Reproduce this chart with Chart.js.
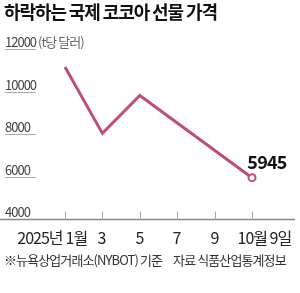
<!DOCTYPE html>
<html>
<head>
  <meta charset="utf-8">
  <title>하락하는 국제 코코아 선물 가격</title>
  <script src="https://cdn.jsdelivr.net/npm/chart.js"></script>
  <style>
    html, body {
      margin: 0;
      padding: 0;
      background: #ffffff;
    }
    .wrap {
      position: relative;
      width: 300px;
      height: 293px;
      overflow: hidden;
      font-family: "Noto Sans CJK KR", "Noto Sans", sans-serif;
    }
    canvas {
      position: absolute;
      left: 0;
      top: 0;
    }
    .title {
      position: absolute;
      left: 4px;
      top: -2px;
      font-size: 18px;
      font-weight: bold;
      letter-spacing: -1.1px;
      color: #111;
      white-space: nowrap;
    }
    .footer {
      position: absolute;
      left: 4px;
      top: 250px;
      font-size: 13px;
      letter-spacing: -0.9px;
      color: #333;
      white-space: nowrap;
    }
    .footer span + span {
      margin-left: 11px;
    }
  </style>
</head>
<body>
  <div class="wrap">
    <canvas id="cocoaChart" width="300" height="293"></canvas>
    <div class="title">하락하는 국제 코코아 선물 가격</div>
    <div class="footer"><span>※뉴욕상업거래소(NYBOT) 기준</span><span>자료 식품산업통계정보</span></div>
  </div>

  <script>
    // data
    const xLabels = ['1월', '3', '5', '7', '9', '10월 9일'];
    const yearLabel = '2025년';
    const prices = [11150, 8030, 9810, null, null, 5945];
    const yTicks = [4000, 6000, 8000, 10000, 12000];
    const unitLabel = '(t당 달러)';

    const lineColor = '#c24d72';
    const fontFamily = '"Noto Sans CJK KR", "Noto Sans", sans-serif';

    const axisPlugin = {
      id: 'axisPlugin',
      beforeDatasetsDraw(chart) {
        const { ctx, chartArea, scales } = chart;
        const y = scales.y;
        const x = scales.x;
        ctx.save();

        // y labels with short underlines
        ctx.font = '13px ' + fontFamily;
        ctx.letterSpacing = '-1px';
        ctx.textAlign = 'left';
        ctx.textBaseline = 'bottom';
        yTicks.forEach((v) => {
          const py = Math.round(y.getPixelForValue(v)) + 0.5;
          ctx.fillStyle = '#444';
          ctx.fillText(String(v), 5, py - 1);
          if (v !== yTicks[0]) {
            ctx.strokeStyle = '#aaa';
            ctx.lineWidth = 1;
            ctx.beginPath();
            ctx.moveTo(5, py);
            ctx.lineTo(36, py);
            ctx.stroke();
          }
          if (v === yTicks[yTicks.length - 1]) {
            const w = ctx.measureText(String(v)).width;
            ctx.fillStyle = '#666';
            ctx.fillText(unitLabel, 5 + w + 2, py - 1);
          }
        });

        // baseline
        const base = Math.round(chartArea.bottom) + 0.5;
        ctx.strokeStyle = '#888';
        ctx.lineWidth = 1.3;
        ctx.beginPath();
        ctx.moveTo(0, base);
        ctx.lineTo(295, base);
        ctx.stroke();

        // x ticks and labels
        ctx.font = '16px ' + fontFamily;
        ctx.letterSpacing = '-1px';
        ctx.textBaseline = 'middle';
        ctx.fillStyle = '#222';
        ctx.strokeStyle = '#aaa';
        ctx.lineWidth = 1;
        xLabels.forEach((lab, i) => {
          const px = Math.round(x.getPixelForValue(i)) + 0.5;
          ctx.beginPath();
          ctx.moveTo(px, base - 8);
          ctx.lineTo(px, base);
          ctx.stroke();
          if (i === 0) {
            ctx.textAlign = 'left';
            ctx.fillText(lab, px, base + 18);
            ctx.textAlign = 'right';
            ctx.fillText(yearLabel, px - 3, base + 18);
          } else if (i === xLabels.length - 1) {
            ctx.textAlign = 'left';
            ctx.fillText(lab, px - 15, base + 18);
          } else {
            ctx.textAlign = 'center';
            ctx.fillText(lab, px - 1, base + 18);
          }
        });
        ctx.restore();
      },
      afterDatasetsDraw(chart) {
        // value label on the last point
        const { ctx } = chart;
        const meta = chart.getDatasetMeta(0);
        const last = prices.length - 1;
        const pt = meta.data[last];
        ctx.save();
        ctx.font = 'bold 18px ' + fontFamily;
        ctx.letterSpacing = '-0.8px';
        ctx.fillStyle = '#111';
        ctx.textAlign = 'center';
        ctx.textBaseline = 'middle';
        ctx.fillText(String(prices[last]), pt.x + 15, pt.y - 16);
        ctx.restore();
      }
    };

    const ctx = document.getElementById('cocoaChart').getContext('2d');
    new Chart(ctx, {
      type: 'line',
      data: {
        labels: xLabels,
        datasets: [
          {
            data: prices,
            borderColor: lineColor,
            borderWidth: 3,
            spanGaps: true,
            tension: 0,
            pointRadius: prices.map((v, i) => (i === prices.length - 1 ? 3.5 : 0)),
            pointBackgroundColor: '#ffffff',
            pointBorderColor: lineColor,
            pointBorderWidth: 2,
          },
        ],
      },
      options: {
        responsive: false,
        devicePixelRatio: 1,
        animation: false,
        layout: {
          padding: { left: 65, right: 48, top: 49, bottom: 74 },
        },
        scales: {
          x: { type: 'category', display: false },
          y: { min: 4000, max: 12000, display: false },
        },
        plugins: {
          legend: { display: false },
          tooltip: { enabled: false },
        },
      },
      plugins: [axisPlugin],
    });
  </script>
</body>
</html>
